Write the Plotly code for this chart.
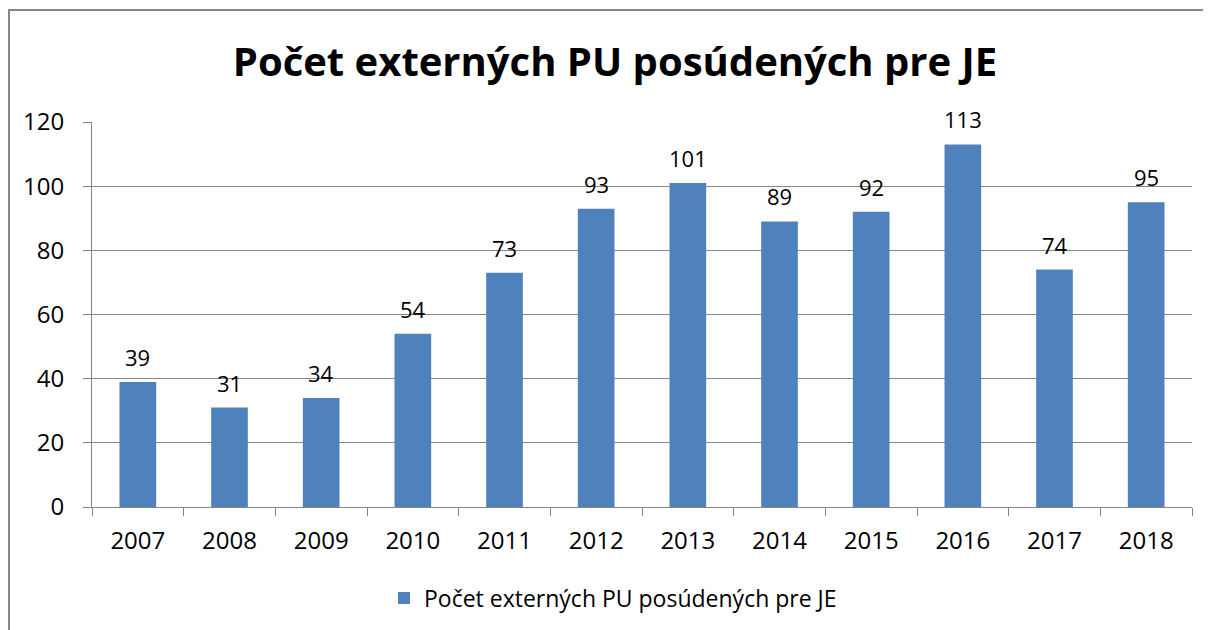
import plotly.graph_objects as go

years = ["2007", "2008", "2009", "2010", "2011", "2012", "2013", "2014", "2015", "2016", "2017", "2018"]
values = [39, 31, 34, 54, 73, 93, 101, 89, 92, 113, 74, 95]
series_name = "Počet externých PU posúdených pre JE"
title_text = "Počet externých PU posúdených pre JE"

OFF = 8  # page body margin
W, H = 1211 - OFF, 630 - OFF
# plot area in screen pixels: x 92..1192, y 122..507
L = 92 - OFF
R = W - (1192 - OFF)
T = 122 - OFF
B = H - (507 - OFF)
pw, ph = W - L - R, H - T - B

def px_x(x):
    return (x - OFF - L) / pw

def px_y(y):
    return (H - B - (y - OFF)) / ph

FONT = "Open Sans"
BLUE = "#4F81BD"
GRAY = "#868686"

fig = go.Figure()
fig.add_trace(go.Bar(
    x=years, y=values, name=series_name,
    marker=dict(color=BLUE, line=dict(width=0)),
    width=0.4,
    showlegend=True,
))

for i, v in enumerate(values):
    fig.add_annotation(x=i, y=v, xref="x", yref="y", text=str(v), showarrow=False,
                       yanchor="middle", yshift=25,
                       font=dict(family=FONT, size=22, color="#000000"))

fig.update_layout(
    width=W, height=H,
    margin=dict(l=L, r=R, t=T, b=B, autoexpand=False),
    paper_bgcolor="white", plot_bgcolor="white",
    font=dict(family=FONT, size=22, color="#000000"),
    title=dict(text="<b>" + title_text + "</b>", x=px_x(615), xref="paper", xanchor="center",
               y=1 - (62 - OFF) / H, yanchor="middle",
               font=dict(family=FONT, size=40, color="#000000")),
    showlegend=True,
    legend=dict(orientation="h", x=px_x(613), xanchor="center", y=px_y(598), yanchor="middle",
                font=dict(family=FONT, size=23, color="#000000"), itemsizing="constant"),
    xaxis=dict(type="category", range=[-0.5, len(years) - 0.5], autorange=False,
               showline=True, linecolor=GRAY, linewidth=1,
               ticks="outside", tickson="boundaries", ticklen=8, tickcolor=GRAY,
               showgrid=False, tickfont=dict(family=FONT, size=24), ticklabelstandoff=12,
               tickangle=0),
    yaxis=dict(range=[0, 120], autorange=False, dtick=20, showline=True, linecolor=GRAY, linewidth=1,
               ticks="outside", ticklen=8, tickcolor=GRAY,
               showgrid=True, gridcolor=GRAY, gridwidth=1, zeroline=False,
               tickfont=dict(family=FONT, size=24), ticklabelstandoff=14),
    bargap=0.6,
)

# chart border (outer frame)
fig.add_shape(type="path", xref="paper", yref="paper",
              path=f"M {px_x(9)},{px_y(640)} L {px_x(9)},{px_y(10)} L {px_x(1230)},{px_y(10)}",
              line=dict(color=GRAY, width=2), layer="above")

fig.write_html("out.html")
